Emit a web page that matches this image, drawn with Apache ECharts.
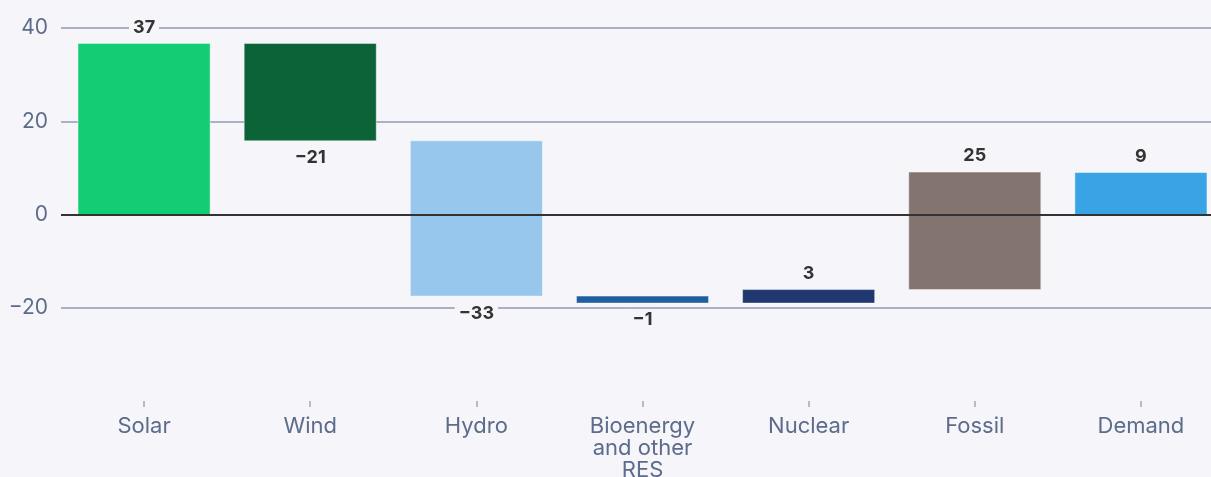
<!DOCTYPE html>
<html>
<head>
<meta charset="utf-8">
<script src="https://cdn.jsdelivr.net/npm/echarts@6/dist/echarts.min.js"></script>
<style>
html,body{margin:0;padding:0;background:#f5f5fa;overflow:hidden;}
#chart{width:1211px;height:477px;}
</style>
</head>
<body>
<div id="chart"></div>
<script>
// Data
const categories = ['Solar', 'Wind', 'Hydro', 'Bioenergy\nand other\nRES', 'Nuclear', 'Fossil', 'Demand'];
const changes = [36.7, -20.9, -33.3, -1.5, 2.9, 25.2, 9.0];
const isTotal = [false, false, false, false, false, false, true];
const valueLabels = ['37', '-21', '-33', '-1', '3', '25', '9'];
const barColors = ['#12cd72', '#0b6337', '#97c7ec', '#1f5f9e', '#1f3870', '#83746f', '#38a4e5'];
const yTicks = [-40, 20, 40];

// Build waterfall ranges
const ranges = [];
let cum = 0;
for (let i = 0; i < changes.length; i++) {
  let start, end;
  if (isTotal[i]) { start = 0; end = changes[i]; }
  else { start = cum; end = cum + changes[i]; cum = end; }
  ranges.push([i, start, end, changes[i]]);
}

const BG = '#f5f5fa';
const FONT = 'Inter, "Noto Sans", sans-serif';
const chart = echarts.init(document.getElementById('chart'), null, { width: 1211, height: 477 });
chart.setOption({
  backgroundColor: BG,
  animation: false,
  grid: { left: 61, top: 28, width: 1163, height: 373, containLabel: false, outerBoundsMode: 'none' },
  xAxis: {
    type: 'category',
    data: categories,
    z: 3,
    axisLine: { show: true, onZero: false, lineStyle: { color: BG, width: 5 } },
    axisTick: { show: true, alignWithLabel: true, length: 6, lineStyle: { color: '#b4bccb', width: 2 } },
    axisLabel: { color: '#5c6c8a', fontSize: 22, fontFamily: FONT, lineHeight: 22, margin: 14, interval: 0 }
  },
  yAxis: {
    type: 'value',
    min: yTicks[0], max: yTicks[2], interval: yTicks[1],
    z: 0,
    axisLine: { show: false },
    axisTick: { show: false },
    splitLine: { show: true, lineStyle: { color: '#aab1c4', width: 2 } },
    axisLabel: {
      color: '#5c6c8a', fontSize: 21, fontFamily: FONT, margin: 13,
      formatter: v => (v === yTicks[0] ? '' : String(v).replace('-', '\u2212'))
    }
  },
  series: [
    {
      type: 'custom',
      z: 2,
      data: ranges,
      encode: { x: 0, y: [1, 2] },
      renderItem: function (params, api) {
        const idx = api.value(0);
        const s = api.value(1), e = api.value(2), ch = api.value(3);
        const p1 = api.coord([idx, s]);
        const p2 = api.coord([idx, e]);
        const w = api.size([1, 0])[0] * 0.795;
        const top = Math.min(p1[1], p2[1]);
        const h = Math.abs(p1[1] - p2[1]);
        const up = ch >= 0;
        const ly = up ? top - 16 : top + h + 17;
        return {
          type: 'group',
          children: [
            {
              type: 'rect',
              shape: { x: p1[0] - w / 2, y: top, width: w, height: h },
              style: { fill: barColors[idx], stroke: 'rgba(255,255,255,0.45)', lineWidth: 1 }
            },
            {
              type: 'text',
              z2: 10,
              x: p1[0], y: ly,
              style: {
                text: valueLabels[idx].replace('-', '\u2212'),
                fill: '#333333',
                font: 'bold 18px ' + FONT,
                align: 'center', verticalAlign: 'middle',
                backgroundColor: BG,
                padding: [0, 4]
              }
            }
          ]
        };
      }
    },
    {
      type: 'line',
      z: 5,
      data: [],
      markLine: {
        silent: true,
        symbol: 'none',
        label: { show: false },
        lineStyle: { color: '#333333', width: 2, type: 'solid' },
        data: [{ yAxis: 0 }]
      }
    }
  ]
});
</script>
</body>
</html>
